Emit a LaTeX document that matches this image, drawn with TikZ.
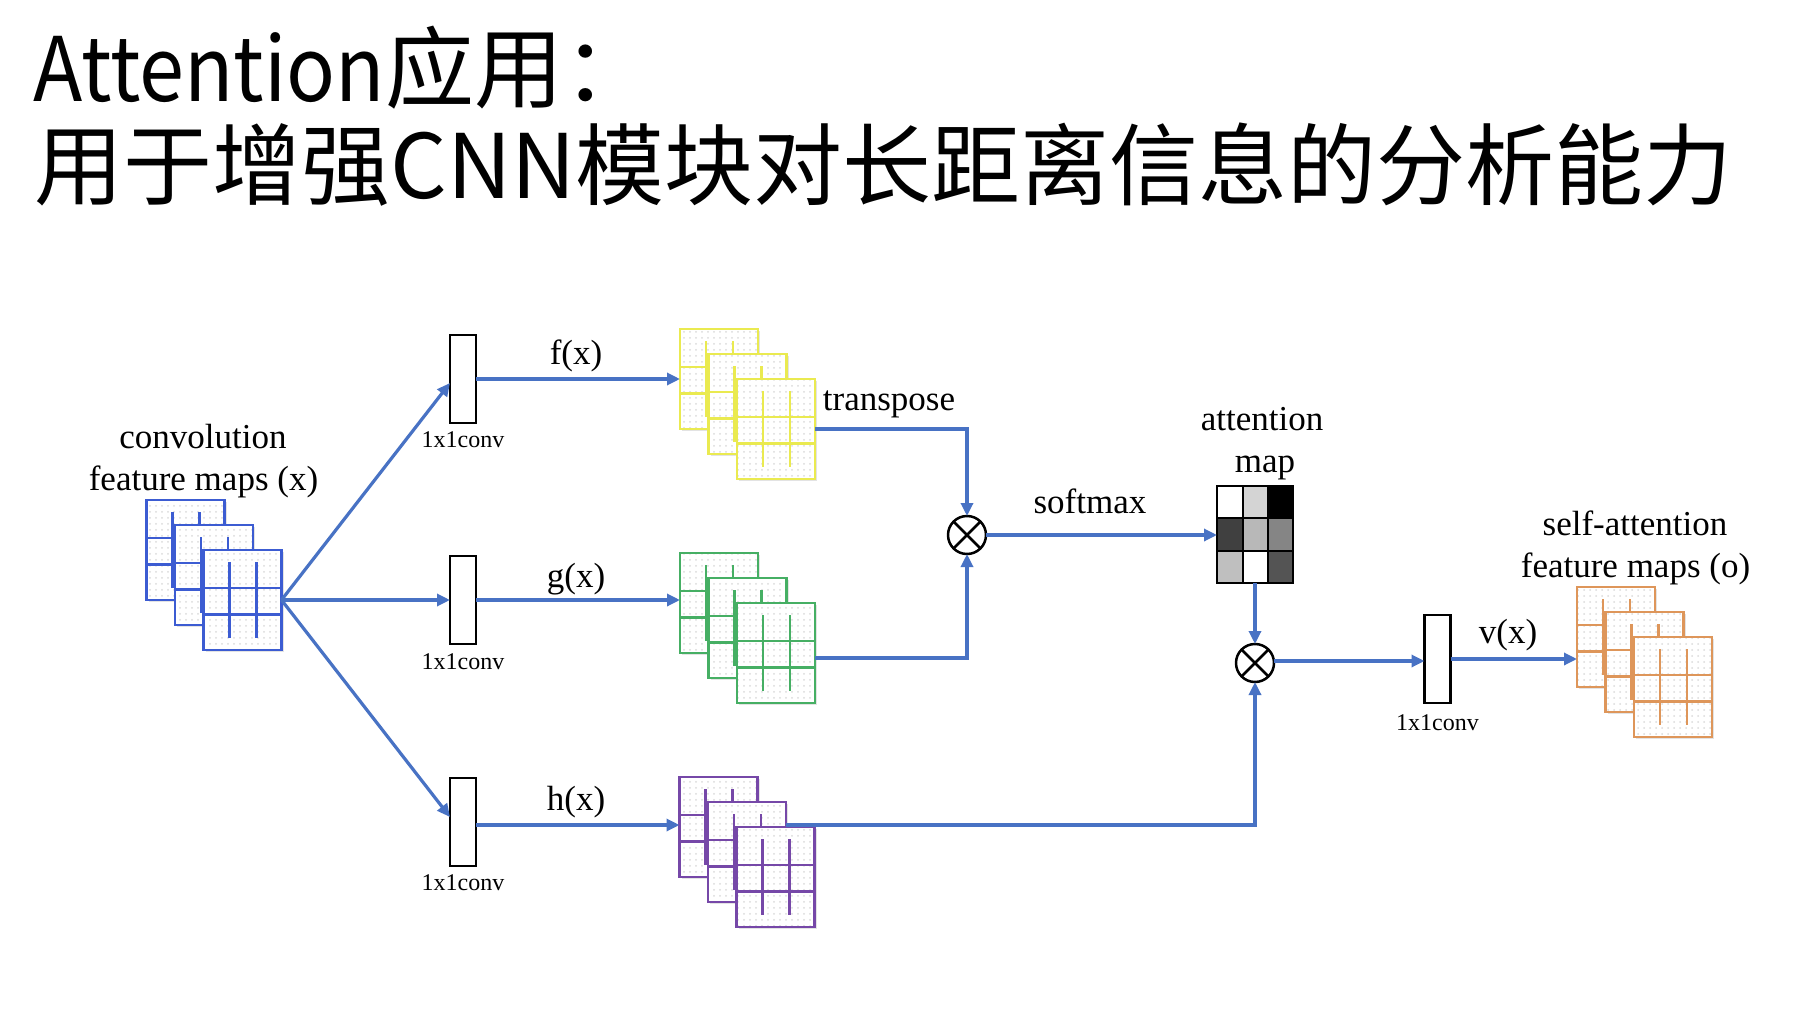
\documentclass[tikz,border=0pt]{standalone}
\usepackage{fontspec}
\setmainfont{Liberation Serif}
\newfontfamily\cjk{Noto Sans CJK SC}
\usetikzlibrary{arrows.meta,patterns,shadows}

\definecolor{arrowblue}{RGB}{72,114,196}
\definecolor{mapblue}{RGB}{60,92,210}
\definecolor{mapyellow}{RGB}{234,234,80}
\definecolor{mapgreen}{RGB}{70,175,100}
\definecolor{mappurple}{RGB}{118,72,168}
\definecolor{maporange}{RGB}{222,150,90}

\tikzset{
  conn/.style={draw=arrowblue, line width=1.6pt},
  arr/.style={conn, -{Triangle[length=6.5pt,width=6pt]}},
  convbox/.style={draw=black, line width=1.1pt, fill=white, minimum width=13pt, minimum height=44pt, inner sep=0pt, outer sep=0pt},
  fm/.style={line width=1.25pt, minimum width=39pt, minimum height=50pt, inner sep=0pt, outer sep=0pt, anchor=north west,
    drop shadow={shadow xshift=1.2pt, shadow yshift=-1.2pt, opacity=0.18, fill=black!60},
    preaction={fill=white}, pattern=dots, pattern color=black!14},
  lbl/.style={font=\fontsize{17.5}{20}\selectfont, inner sep=0pt, anchor=base},
  smalllbl/.style={font=\fontsize{12}{14}\selectfont, inner sep=0pt, anchor=base},
  titletext/.style={font=\cjk\fontsize{44.5}{50}\selectfont, inner sep=0pt, anchor=base west},
  otimes/.style={circle, draw=black, line width=1.25pt, minimum size=19pt, inner sep=0pt, outer sep=0pt, fill=white,
    path picture={\draw[black, line width=1.25pt] (path picture bounding box.north west) -- (path picture bounding box.south east)
      (path picture bounding box.north east) -- (path picture bounding box.south west);}},
}

\newcommand{\fmstack}[4]{%
  \foreach \k in {1,2,3} {
    \pgfmathsetmacro\xx{#3+28.5*(\k-1)}
    \pgfmathsetmacro\yy{#4+25*(\k-1)}
    \node[fm, draw=#2] (#1\k) at (\xx,\yy) {};
    \draw[#2, line width=1.2pt]
      ([xshift=13pt,yshift=-6pt]#1\k.north west) -- ([xshift=13pt,yshift=6pt]#1\k.south west)
      ([xshift=26.5pt,yshift=-6pt]#1\k.north west) -- ([xshift=26.5pt,yshift=6pt]#1\k.south west)
      ([yshift=-19pt]#1\k.north west) -- ([yshift=-19pt]#1\k.north east)
      ([yshift=-32.25pt]#1\k.north west) -- ([yshift=-32.25pt]#1\k.north east);
  }%
}

\begin{document}
\begin{tikzpicture}[x=0.5pt,y=-0.5pt]
\fill[white] (0,0) rectangle (1796,1028);
\useasboundingbox (0,0) rectangle (1796,1028);

% title
\node[titletext] (t1) at (33,101) {\scalebox{0.91}[1]{Attention}应用：};
\node[titletext] (t2) at (34,198) {用于增强CNN模块对长距离信息的分析能力};

% input feature maps
\fmstack{X}{mapblue}{146.5}{500}
\node[lbl] (convlbl) at (203,448) {convolution};
\node[lbl] (fmxlbl) at (203.5,490) {feature maps (x)};

% 1x1 conv boxes
\node[convbox] (cf) at (463,379) {};
\node[convbox] (cg) at (463,600) {};
\node[convbox] (ch) at (463,822) {};
\node[smalllbl] (lf) at (463,447) {1x1conv};
\node[smalllbl] (lg) at (463,669) {1x1conv};
\node[smalllbl] (lh) at (463,890) {1x1conv};

\draw[arr] (X3.east) -- ([yshift=-2pt]cf.west);
\draw[arr] (X3.east) -- (cg.west);
\draw[arr] (X3.east) -- ([yshift=2.5pt]ch.west);

% stacks
\fmstack{Y}{mapyellow}{680}{329}
\fmstack{G}{mapgreen}{680}{553}
\fmstack{P}{mappurple}{679.5}{777}
\fmstack{O}{maporange}{1577}{587}

\draw[arr] (cf.east) -- (cf.east -| Y1.west);
\draw[arr] (cg.east) -- (cg.east -| G1.west);
\draw[arr] ([yshift=-1.5pt]ch.east) -- ([yshift=-1.5pt]ch.east -| P1.west);
\node[lbl] (flbl) at (576,364) {f(x)};
\node[lbl] (glbl) at (576,587) {g(x)};
\node[lbl] (hlbl) at (576,810) {h(x)};

% first multiplication
\node[otimes] (m1) at (967,535) {};
\draw[arr] (Y3.east) -| (m1.north);
\draw[arr] ([yshift=-2.5pt]G3.east) -| (m1.south);
\node[lbl] (tlbl) at (889,410) {transpose};

% attention map
\fill[white] (1217,486) rectangle (1242.5,518.3);
\fill[black!17] (1242.5,486) rectangle (1268,518.3);
\fill[black] (1268,486) rectangle (1293,518.3);
\fill[black!75] (1217,518.3) rectangle (1242.5,550.7);
\fill[black!28] (1242.5,518.3) rectangle (1268,550.7);
\fill[black!48] (1268,518.3) rectangle (1293,550.7);
\fill[black!25] (1217,550.7) rectangle (1242.5,583);
\fill[white] (1242.5,550.7) rectangle (1268,583);
\fill[black!67] (1268,550.7) rectangle (1293,583);
\draw[line width=1pt] (1242.5,486) -- (1242.5,583) (1268,486) -- (1268,583)
  (1217,518.3) -- (1293,518.3) (1217,550.7) -- (1293,550.7);
\node[draw=black, line width=1.1pt, minimum width=38pt, minimum height=48.5pt, inner sep=0pt, outer sep=0pt] (amap) at (1255,534.5) {};
\node[lbl] (alat) at (1262,430) {attention};
\node[lbl] (amlbl) at (1265,472) {map};

\draw[arr] (m1.east) -- (m1.east -| amap.west);
\node[lbl] (smlbl) at (1090,513) {softmax};

% second multiplication
\node[otimes] (m2) at (1255,663) {};
\draw[arr] (amap.south) -- (m2.north);
\draw[arr] ([yshift=13.5pt]P2.east) -| (m2.south);

% output conv
\node[convbox] (cv) at (1437.5,659) {};
\node[smalllbl] (lv) at (1437.5,730) {1x1conv};
\draw[arr] ([yshift=1pt]m2.east) -- ([yshift=1pt]m2.east -| cv.west);
\draw[arr] (cv.east) -- (cv.east -| O1.west);
\node[lbl] (vlbl) at (1508,643) {v(x)};
\node[lbl] (salbl) at (1635,535) {self-attention};
\node[lbl] (fmolbl) at (1635.5,577) {feature maps (o)};
\end{tikzpicture}
\end{document}
